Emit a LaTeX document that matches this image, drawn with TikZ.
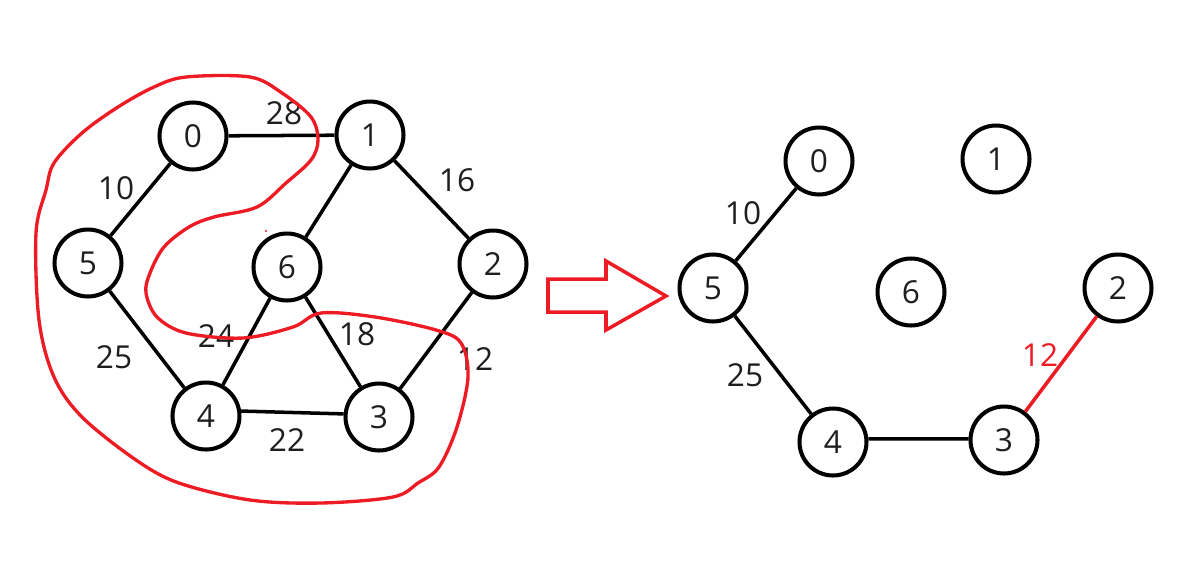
\documentclass[tikz,border=0pt]{standalone}
\usepackage{fontspec}
\setmainfont{Open Sans}
\usetikzlibrary{positioning}
\definecolor{PaintRed}{HTML}{ED1C24}
\definecolor{Ink}{HTML}{1E1E1E}
\tikzset{
  vert/.style={circle, draw=black, line width=2.3pt, fill=white,
               minimum size=1.34cm, inner sep=0pt, text=Ink,
               font=\fontsize{18}{20}\selectfont},
  edge/.style={draw=black, line width=2pt},
  pickedge/.style={draw=PaintRed, line width=2pt},
  wt/.style={font=\fontsize{18}{20}\selectfont, text=Ink},
  pickwt/.style={font=\fontsize{18}{20}\selectfont, text=PaintRed},
  lasso/.style={draw=PaintRed, line width=1.9pt, line join=round},
  bigarrow/.style={draw=PaintRed, line width=2pt, line join=miter},
}

\begin{document}
\begin{tikzpicture}[x=0.02cm, y=-0.02cm]
    \useasboundingbox (0,0) rectangle (1194,562);
    % whole graph
    \node[vert] (l0) at (193,136) {0};
    \node[vert] (l1) at (370,135) {1};
    \node[vert] (l2) at (493,264) {2};
    \node[vert] (l3) at (379,417) {3};
    \node[vert] (l4) at (206,416) {4};
    \node[vert] (l5) at (88,263) {5};
    \node[vert] (l6) at (287,267) {6};
    \draw[edge] (l0) -- (l1);
    \draw[edge] (l0) -- (l5);
    \draw[edge] (l1) -- (l2);
    \draw[edge] (l1) -- (l6);
    \draw[edge] (l2) -- (l3);
    \draw[edge] (l6) -- (l4);
    \draw[edge] (l6) -- (l3);
    \draw[edge] (l5) -- (l4);
    \draw[edge] (l4.8) -- (l3.175);
    \node[wt] (w01) at (284,113) {28};
    \node[wt] (w05) at (116,188) {10};
    \node[wt] (w12) at (457,180) {16};
    \node[wt] (w64) at (216,336) {24};
    \node[wt] (w63) at (357,334) {18};
    \node[wt] (w23) at (475,359) {12};
    \node[wt] (w54) at (114,357) {25};
    \node[wt] (w43) at (287,440) {22};
    % hand drawn cut
    \draw[lasso] plot[smooth cycle, tension=0.55] coordinates {
      (186,77) (250,77) (282,93) (311,117) (318,140) (311,160)
      (286,183) (257,207) (214,217) (189,227) (164,247) (150,273)
      (146,293) (157,317) (186,333) (243,338) (293,327) (321,313)
      (375,317) (436,330) (461,343) (468,377) (457,427) (439,467)
      (418,483) (393,497) (321,503) (250,500) (179,483) (136,460)
      (82,417) (54,377) (39,320) (36,233) (46,190) (54,163)
      (82,133) (118,107) (154,87)};
    \fill[PaintRed] (266,231) circle[radius=1.2];
    % arrow between the two graphs
    \draw[bigarrow] (548,279) -- (606,279) -- (606,261) -- (666,296)
      -- (606,330) -- (606,312) -- (548,312) -- cycle;
    % tree so far
    \node[vert] (r0) at (819,161) {0};
    \node[vert] (r1) at (996,159) {1};
    \node[vert] (r2) at (1118,288) {2};
    \node[vert] (r3) at (1004,440) {3};
    \node[vert] (r4) at (833,442) {4};
    \node[vert] (r5) at (713,288) {5};
    \node[vert] (r6) at (911,292) {6};
    \draw[edge] (r0) -- (r5);
    \draw[edge] (r5) -- (r4);
    \draw[edge] (r4.5) -- (r3.178);
    \draw[pickedge] (r2) -- (r3);
    \node[wt] (v05) at (743,213) {10};
    \node[wt] (v54) at (745,375) {25};
    \node[pickwt] (v23) at (1040,355) {12};
\end{tikzpicture}
\end{document}
